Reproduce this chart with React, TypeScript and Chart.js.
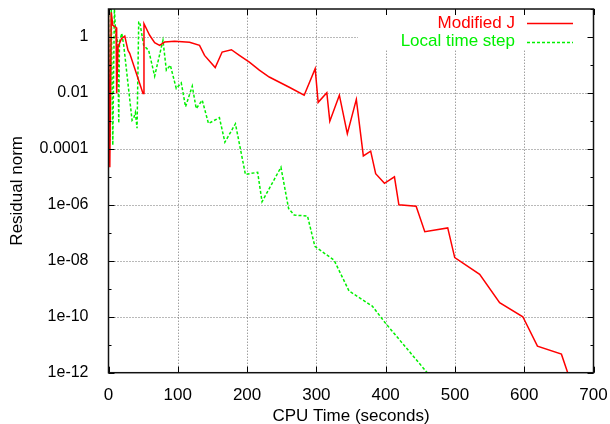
import React, { useEffect, useRef } from "react";
import { Chart, registerables } from "chart.js";

Chart.register(...registerables);

// ---- data ----
const redTime = [
  0, 1.9, 4, 6.2, 10.9, 11.8, 13.8, 18.7, 23.5, 25.9, 28.2, 30.6, 49.8, 51.2, 59.4, 66.6,
  73.8, 81, 95.4, 117, 131.4, 138.6, 154, 164, 177.4, 188.9, 203.3, 217.7, 232, 260.9,
  282.4, 298.3, 302.6, 315.1, 319.4, 333.2, 344.7, 357.7, 367.8, 378.4, 385.6, 398.3,
  412.7, 419.1, 444, 456.5, 489.6, 499.7, 535.7, 564.5, 598, 619.1, 653.7, 671,
];
const redResidual = [
  9.8, 2.2e-5, 7.6, 2.6, 2.2, 9.5e-3, 0.44, 0.87, 1.07, 0.58, 0.33, 0.26, 9.5e-3, 3.0, 1.15, 0.62,
  0.5, 0.66, 0.71, 0.65, 0.5, 0.22, 0.081, 0.29, 0.35, 0.22, 0.126, 0.065, 0.037, 0.016,
  8.3e-3, 0.074, 4.6e-3, 0.0102, 9.8e-4, 8.3e-3, 3.5e-4, 5.9e-3, 5.6e-5, 8.3e-5, 1.3e-5, 5.9e-6,
  1.0e-5, 1.0e-6, 8.9e-7, 1.1e-7, 1.5e-7, 1.3e-8, 3.3e-9, 3.2e-10, 1.0e-10, 8.9e-12, 4.6e-12, 2.5e-13,
];
const greenTime = [
  0, 2.3, 4, 6.2, 8.5, 10.5, 13.4, 14.8, 15.8, 19.1, 22, 34, 36.4, 38.8, 41.2, 43.6, 45,
  50.8, 58, 66.6, 78.6, 83.5, 89.2, 97.8, 105, 111.2, 120.9, 126.6, 135.3, 144.3, 160.1,
  168, 183.2, 197.6, 215.3, 221.6, 248.9, 259.9, 268, 287.2, 297.8, 325.6, 347.2, 380.7,
  400, 460,
];
const greenResidual = [
  9.8, 2.0e-4, 9.8, 1.35e-4, 10, 1.15, 0.65, 8.3e-4, 0.65, 1.35, 0.5, 1.05e-3, 1.26e-3, 2.0e-3, 5.5e-4, 3.4, 3.5,
  0.5, 0.33, 0.04, 0.76, 0.065, 0.098, 0.0145, 0.023, 3.2e-3, 0.0174, 2.75e-3, 5.5e-3, 8.1e-4, 1.3e-3,
  1.74e-4, 7.9e-4, 1.23e-5, 1.45e-5, 1.3e-6, 2.2e-5, 7.4e-7, 4.3e-7, 4.0e-7, 3.3e-8, 1.05e-8, 8.3e-10, 2.4e-10,
  5.8e-11, 1e-12,
];
const seriesNames = ["Modified J", "Local time step"];
const seriesColors = ["#ff0000", "#00f000"];

const xTickValues = [0, 100, 200, 300, 400, 500, 600, 700];
const yDecadeValues = [1e-12, 1e-11, 1e-10, 1e-9, 1e-8, 1e-7, 1e-6, 1e-5, 1e-4, 1e-3, 1e-2, 1e-1, 1, 10];
const yLabelValues = [1e-12, 1e-10, 1e-8, 1e-6, 1e-4, 1e-2, 1];
const yLabelTexts = ["1e-12", "1e-10", "1e-08", "1e-06", "0.0001", "0.01", "1"];

const FONT = "'Liberation Sans', Arial, Helvetica, sans-serif";

function labelIndex(v: number) {
  for (let i = 0; i < yLabelValues.length; i++) {
    if (Math.abs(Math.log10(v) - Math.log10(yLabelValues[i])) < 1e-6) return i;
  }
  return -1;
}

const LEGEND_BOX = { x0: 358, x1: 590, y0: 9, y1: 50 };

const framePlugin = {
  id: "gnuplotFrame",
  beforeDatasetsDraw(chart: any) {
    const { ctx, chartArea: a, scales } = chart;
    const xs = scales.x;
    const ys = scales.y;
    ctx.save();
    ctx.beginPath();
    ctx.rect(a.left, a.top, a.right - a.left, a.bottom - a.top);
    ctx.rect(LEGEND_BOX.x1, LEGEND_BOX.y0, LEGEND_BOX.x0 - LEGEND_BOX.x1, LEGEND_BOX.y1 - LEGEND_BOX.y0);
    ctx.clip("evenodd");
    ctx.strokeStyle = "rgba(0,0,0,0.55)";
    ctx.lineWidth = 1;
    ctx.setLineDash([1, 2]);
    for (const v of xTickValues) {
      if (v === xTickValues[0] || v === xTickValues[xTickValues.length - 1]) continue;
      const px = Math.round(xs.getPixelForValue(v)) + 0.5;
      ctx.beginPath();
      ctx.moveTo(px, a.bottom);
      ctx.lineTo(px, a.top);
      ctx.stroke();
    }
    for (const v of yLabelValues) {
      if (v === yLabelValues[0]) continue;
      const py = Math.round(ys.getPixelForValue(v)) + 0.5;
      ctx.beginPath();
      ctx.moveTo(a.left, py);
      ctx.lineTo(a.right, py);
      ctx.stroke();
    }
    ctx.restore();
  },
  afterDatasetsDraw(chart: any) {
    const { ctx, chartArea: a, scales } = chart;
    const xs = scales.x;
    const ys = scales.y;
    ctx.save();
    ctx.font = `17px ${FONT}`;
    ctx.textAlign = "right";
    ctx.textBaseline = "middle";
    const rows = [23, 41.5];
    for (let i = 0; i < seriesNames.length; i++) {
      ctx.fillStyle = seriesColors[i];
      ctx.fillText(seriesNames[i], 515, rows[i]);
      ctx.strokeStyle = seriesColors[i];
      ctx.lineWidth = 1.3;
      ctx.setLineDash(i === 0 ? [] : [3, 2]);
      ctx.beginPath();
      ctx.moveTo(527, Math.round(rows[i]) + 0.5);
      ctx.lineTo(573, Math.round(rows[i]) + 0.5);
      ctx.stroke();
    }
    ctx.setLineDash([]);
    ctx.strokeStyle = "#000";
    ctx.lineWidth = 1;
    for (const v of xTickValues) {
      const px = Math.round(xs.getPixelForValue(v)) + 0.5;
      ctx.beginPath();
      ctx.moveTo(px, a.bottom);
      ctx.lineTo(px, a.bottom - 6);
      ctx.moveTo(px, a.top);
      ctx.lineTo(px, a.top + 6);
      ctx.stroke();
    }
    for (const v of yDecadeValues) {
      const major = labelIndex(v) >= 0;
      const len = major ? 6 : 3;
      const py = Math.round(ys.getPixelForValue(v)) + 0.5;
      ctx.beginPath();
      ctx.moveTo(a.left, py);
      ctx.lineTo(a.left + len, py);
      ctx.moveTo(a.right, py);
      ctx.lineTo(a.right - len, py);
      ctx.stroke();
    }
    ctx.lineWidth = 1.5;
    ctx.strokeStyle = "#111";
    ctx.strokeRect(a.left, a.top, a.right - a.left, a.bottom - a.top);
    ctx.restore();
  },
};

export default function App() {
  const canvasRef = useRef<HTMLCanvasElement | null>(null);

  useEffect(() => {
    const canvas = canvasRef.current;
    if (!canvas) return;
    const chart = new Chart(canvas, {
      type: "line",
      data: {
        datasets: [
          {
            label: seriesNames[0],
            data: redTime.map((t, i) => ({ x: t, y: redResidual[i] })),
            borderColor: seriesColors[0],
            borderWidth: 1.5,
            pointRadius: 0,
            tension: 0,
            fill: false,
          },
          {
            label: seriesNames[1],
            data: greenTime.map((t, i) => ({ x: t, y: greenResidual[i] })),
            borderColor: seriesColors[1],
            borderWidth: 1.5,
            borderDash: [3, 2],
            pointRadius: 0,
            tension: 0,
            fill: false,
          },
        ],
      },
      options: {
        animation: false,
        responsive: false,
        maintainAspectRatio: false,
        devicePixelRatio: 1,
        layout: { padding: { top: 9, right: 16.5, left: 0, bottom: 0 } },
        plugins: {
          legend: { display: false },
          tooltip: { enabled: false },
        },
        scales: {
          x: {
            type: "linear",
            min: 0,
            max: 700,
            grid: { display: false },
            border: { display: false },
            afterBuildTicks: (s: any) => {
              s.ticks = xTickValues.map((v) => ({ value: v }));
            },
            afterFit: (s: any) => {
              s.height = 51.3;
              s.paddingLeft = 0;
              s.paddingRight = 0;
              s.paddingTop = 0;
              s.paddingBottom = 0;
            },
            ticks: {
              autoSkip: false,
              maxRotation: 0,
              padding: 4,
              color: "#000",
              font: { family: FONT, size: 17 },
              callback: (v: any) => String(v),
            },
            title: {
              display: true,
              text: "CPU Time (seconds)",
              color: "#000",
              font: { family: FONT, size: 17, lineHeight: 0.9 },
              padding: { top: 0, bottom: 0 },
            },
          },
          y: {
            type: "logarithmic",
            min: 1e-12,
            max: 10,
            grid: { display: false },
            border: { display: false },
            afterBuildTicks: (s: any) => {
              s.ticks = yDecadeValues.map((v) => ({ value: v }));
            },
            afterFit: (s: any) => {
              s.width = 108.5;
              s.paddingLeft = 0;
              s.paddingRight = 0;
              s.paddingTop = 0;
              s.paddingBottom = 0;
            },
            ticks: {
              autoSkip: false,
              padding: 12,
              color: "#000",
              font: { family: FONT, size: 16 },
              callback: (v: any) => {
                const i = labelIndex(Number(v));
                return i >= 0 ? yLabelTexts[i] : "";
              },
            },
            title: {
              display: true,
              text: "Residual norm",
              color: "#000",
              font: { family: FONT, size: 17 },
              padding: { top: 7, bottom: 0 },
            },
          },
        },
      },
      plugins: [framePlugin],
    });
    return () => chart.destroy();
  }, []);

  return (
    <div style={{ position: "fixed", left: 0, top: 0, width: 610, height: 424, background: "#fff" }}>
      <canvas ref={canvasRef} width={610} height={424} style={{ width: 610, height: 424 }} />
    </div>
  );
}
